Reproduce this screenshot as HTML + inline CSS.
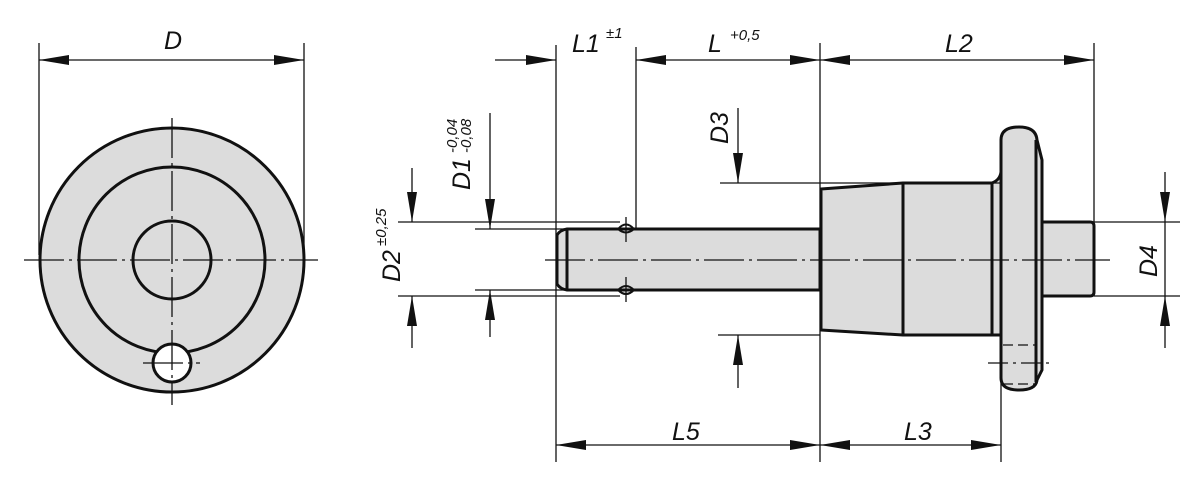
<!DOCTYPE html>
<html><head><style>body{margin:0;background:#fff}svg{display:block}text{font-family:"Liberation Sans",sans-serif;font-style:italic;fill:#111}</style></head><body>
<svg width="1200" height="482" viewBox="0 0 1200 482" xmlns="http://www.w3.org/2000/svg">
<defs>
<marker id="a" viewBox="0 0 30 10" refX="30" refY="5" markerWidth="30" markerHeight="10" markerUnits="userSpaceOnUse" orient="auto-start-reverse"><path d="M0,0L30,5L0,10z" fill="#111"/></marker>
</defs>
<g stroke="#111" fill="none">
<circle cx="172" cy="260" r="132" fill="#dcdcdc" stroke-width="3"/>
<circle cx="172" cy="260" r="93" stroke-width="3"/>
<circle cx="172" cy="260" r="39" stroke-width="3"/>
<circle cx="172" cy="363" r="19" fill="#fff" stroke-width="3"/>
<path d="M24 260H318M172 118V405M143 363H200" stroke-width="1.3" stroke-dasharray="40,5,3,5"/>
<path d="M39 43V255M304 43V255" stroke-width="1.3"/>
<path d="M39 60H304" stroke-width="1.3" marker-start="url(#a)" marker-end="url(#a)"/>
<g stroke-width="3" fill="#dcdcdc" stroke-linejoin="round">
<path d="M567 229H820V290H567Q560 289 557 284V235Q560 230 567 229Z"/>
<path d="M567 229V290"/>
<path d="M821 189L903 183H992Q1000 180 1001 172V335H992H903L821 330Z" />
<path d="M903 183V335M992 183V335"/>
<path d="M1042 222H1090Q1094 222 1094 226V292Q1094 296 1090 296H1042Z"/>
<path d="M1001 140Q1001 127 1019 127Q1036 127 1037 140L1042 160V370L1037 380Q1036 390 1019 390Q1001 390 1001 378Z"/>
<path d="M1036 140V382"/>
</g>
<path d="M1003 345H1036M1003 384H1036" stroke-width="1.3" stroke-dasharray="10,5"/>
<path d="M988 363H1050" stroke-width="1.3" stroke-dasharray="20,5,3,5"/>
<path d="M618 229Q626 220 634 229Q626 236 618 229ZM618 290Q626 282 634 290Q626 298 618 290Z" stroke-width="2"/>
<path d="M626 217V242M626 277V302" stroke-width="1.3"/>
<path d="M545 260H1110" stroke-width="1.3" stroke-dasharray="40,5,3,5"/>
<g stroke-width="1.3">
<path d="M556 45V462M636 47V229M820 43V462M1094 43V222M1001 340V462"/>
<path d="M720 183H1000M718 335H820M475 229H630M475 290H630M398 222H620M398 296H620M1094 222H1180M1094 296H1180"/>
</g>
<g stroke-width="1.3">
<path d="M495 60H556" marker-end="url(#a)"/>
<path d="M636 60H820" marker-start="url(#a)" marker-end="url(#a)"/>
<path d="M820 60H1094" marker-start="url(#a)" marker-end="url(#a)"/>
<path d="M556 445H820" marker-start="url(#a)" marker-end="url(#a)"/>
<path d="M820 445H1001" marker-start="url(#a)" marker-end="url(#a)"/>
<path d="M738 108V183" marker-end="url(#a)"/><path d="M738 388V335" marker-end="url(#a)"/>
<path d="M490 113V229" marker-end="url(#a)"/><path d="M490 337V290" marker-end="url(#a)"/>
<path d="M412 168V222" marker-end="url(#a)"/><path d="M412 348V296" marker-end="url(#a)"/>
<path d="M1165 172V222" marker-end="url(#a)"/><path d="M1165 348V296" marker-end="url(#a)"/>
<path d="M1165 222V296"/>
</g>
</g>
<g font-size="25">
<text x="164" y="49">D</text>
<text x="572" y="52">L1</text><text x="606" y="38" font-size="15">±1</text>
<text x="708" y="52">L</text><text x="730" y="40" font-size="15">+0,5</text>
<text x="945" y="52">L2</text>
<text x="672" y="440">L5</text>
<text x="904" y="440">L3</text>
<text transform="translate(728,144) rotate(-90)">D3</text>
<text transform="translate(470,190) rotate(-90)">D1</text>
<text transform="translate(457,153) rotate(-90)" font-size="15">-0,04</text>
<text transform="translate(471,153) rotate(-90)" font-size="15">-0,08</text>
<text transform="translate(400,282) rotate(-90)">D2</text>
<text transform="translate(386,246) rotate(-90)" font-size="15">±0,25</text>
<text transform="translate(1157,277) rotate(-90)">D4</text>
</g>
</svg>
</body></html>
